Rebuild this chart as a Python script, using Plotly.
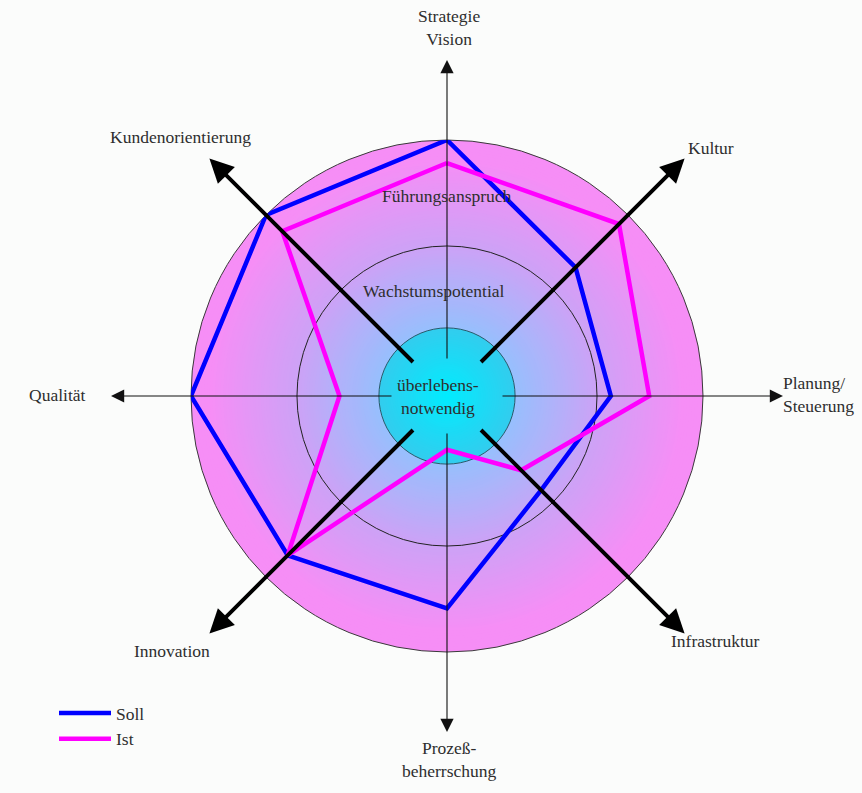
import numpy as np
import plotly.graph_objects as go

# ---------------- data ----------------
categories = ["Strategie Vision", "Kultur", "Planung/Steuerung", "Infrastruktur",
              "Prozeßbeherrschung", "Innovation", "Qualität", "Kundenorientierung"]
label_texts = ["Strategie<br>Vision", "Kultur", "Planung/<br>Steuerung", "Infrastruktur",
               "Prozeß-<br>beherrschung", "Innovation", "Qualität", "Kundenorientierung"]
soll = [1.00, 0.71, 0.64, 0.52, 0.83, 0.88, 1.00, 1.00]
ist = [0.91, 0.95, 0.79, 0.41, 0.21, 0.88, 0.42, 0.91]
zone_names = ["Führungsanspruch", "Wachstumspotential", "überlebens-<br>notwendig"]
zone_radii = [1.0, 0.586, 0.266]   # relative to outer circle

# ---------------- geometry / style ----------------
W, H = 862, 793
CX, CY, R = 447, 396, 256
BG = "#FBFCFB"
FONT = "Liberation Serif"
FS = 17.5
TXT = "#2E2E2E"

fig = go.Figure()

# hidden pixel-space cartesian axes for the backdrop
fig.update_xaxes(range=[0, W], visible=False, fixedrange=True)
fig.update_yaxes(range=[H, 0], visible=False, fixedrange=True)

def circ(r, fill, line_color=None, lw=0):
    return dict(type="circle", xref="x", yref="y", layer="below",
                x0=CX - r, x1=CX + r, y0=CY - r, y1=CY + r,
                fillcolor=fill, line=dict(color=line_color or fill, width=lw))

def lerp(c1, c2, t):
    return "rgb(%d,%d,%d)" % tuple(round(a + (b - a) * t) for a, b in zip(c1, c2))

shapes = []
r_in = zone_radii[2] * R
# radial gradient: pink outside -> light blue towards centre
pink = (246, 142, 246)
mid = (205, 162, 246)
blue = (150, 192, 253)
n = 70
for i in range(n):
    rr = R - (R - r_in) * i / n
    t = (rr - r_in) / (R - r_in)
    if t > 0.45:
        col = lerp(mid, pink, min(1, (t - 0.45) / 0.45))
    else:
        col = lerp(blue, mid, t / 0.45)
    shapes.append(circ(rr, col))
shapes.append(circ(R, "rgba(0,0,0,0)", "#3A3A3A", 1))
shapes.append(circ(zone_radii[1] * R, "rgba(0,0,0,0)", "#222222", 1))
# cyan core gradient
cy_out = (50, 205, 238)
cy_in = (0, 236, 255)
m = 30
for i in range(m):
    rr = r_in - r_in * i / m
    shapes.append(circ(rr, lerp(cy_in, cy_out, rr / r_in)))
shapes.append(circ(r_in, "rgba(0,0,0,0)", "#2A5A6A", 1))
fig.update_layout(shapes=shapes)

# ---------------- data polygons ----------------
theta = categories + categories[:1]
fig.add_trace(go.Scatterpolar(r=soll + soll[:1], theta=theta, mode="lines", name="Soll",
                              line=dict(color="#0000FF", width=4.5)))
fig.add_trace(go.Scatterpolar(r=ist + ist[:1], theta=theta, mode="lines", name="Ist",
                              line=dict(color="#FF00FF", width=4.5)))

fig.update_layout(polar=dict(
    domain=dict(x=[(CX - R) / W, (CX + R) / W], y=[(H - CY - R) / H, (H - CY + R) / H]),
    bgcolor="rgba(0,0,0,0)",
    radialaxis=dict(range=[0, 1], visible=False),
    angularaxis=dict(visible=False, direction="clockwise", rotation=90,
                     categoryorder="array", categoryarray=categories),
))

# ---------------- axes arrows ----------------
ann = []
for k, cat in enumerate(categories):
    ang = np.deg2rad(90 - 45 * k)
    ux, uy = np.cos(ang), -np.sin(ang)
    if k % 2 == 0:
        r0 = 36 if k % 4 == 0 else 54
        r1, lw, size, col = 336, 1.1, 2.4, "#111111"
    else:
        r0, r1, lw, size, col = 46, 336, 4, 1.2, "#000000"
    ann.append(dict(x=CX + r1 * ux, y=CY + r1 * uy, ax=CX + r0 * ux, ay=CY + r0 * uy,
                    xref="x", yref="y", axref="x", ayref="y", text="", showarrow=True,
                    arrowhead=2, arrowwidth=lw, arrowsize=size, arrowcolor=col, standoff=0))

# ---------------- axis labels ----------------
label_pos = [(449, 27, "center"), (711, 148, "center"), (781, 394, "left"), (715, 641, "center"),
             (449, 759, "center"), (172, 651, "center"), (57, 395, "center"), (180, 137, "center")]
for txt, (x, y, anc) in zip(label_texts, label_pos):
    ann.append(dict(x=x, y=y, xref="x", yref="y", text=txt, showarrow=False,
                    xanchor=anc, yanchor="middle", align=anc,
                    font=dict(family=FONT, size=FS, color=TXT)))

zone_pos = [(447, 196), (434, 291), (438, 396)]
for txt, (x, y) in zip(zone_names, zone_pos):
    ann.append(dict(x=x, y=y, xref="x", yref="y", text=txt, showarrow=False,
                    xanchor="center", yanchor="middle", align="center",
                    font=dict(family=FONT, size=FS, color=TXT)))

fig.update_layout(
    annotations=ann,
    width=W, height=H, margin=dict(l=0, r=0, t=0, b=0),
    paper_bgcolor=BG, plot_bgcolor=BG,
    showlegend=True,
    legend=dict(x=54 / W, y=1 - 695 / H, xanchor="left", yanchor="top",
                bgcolor="rgba(0,0,0,0)", font=dict(family=FONT, size=FS, color=TXT),
                itemwidth=52, tracegroupgap=0),
)

fig.write_html("out.html")
